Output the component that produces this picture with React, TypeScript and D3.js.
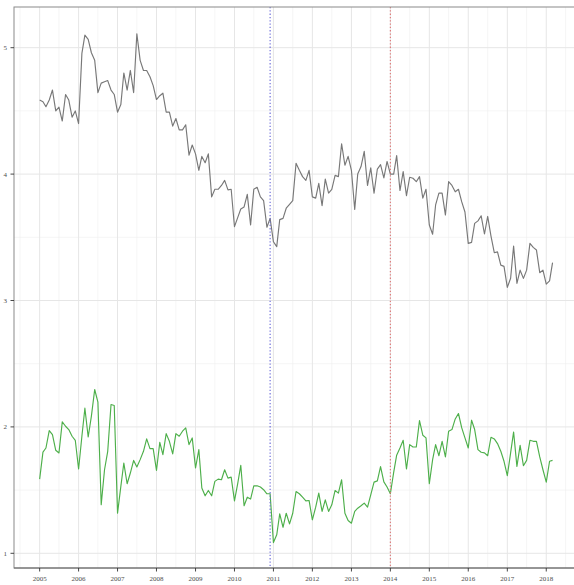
import React from "react";
import * as d3 from "d3";

const START_YEAR = 2005;
const START_MONTH = 0;

const seriesGray: number[] = [
  4.586, 4.573, 4.533, 4.586, 4.665, 4.5, 4.53, 4.42, 4.63, 4.586,
  4.45, 4.5, 4.4, 4.955, 5.1, 5.066, 4.96, 4.9, 4.645, 4.72,
  4.73, 4.74, 4.665, 4.63, 4.49, 4.55, 4.8, 4.665, 4.82, 4.645,
  5.11, 4.9, 4.82, 4.82, 4.77, 4.7, 4.59, 4.62, 4.64, 4.49,
  4.49, 4.38, 4.44, 4.35, 4.35, 4.39, 4.15, 4.23, 4.16, 4.03,
  4.14, 4.09, 4.16, 3.82, 3.88, 3.88, 3.91, 3.95, 3.875, 3.88,
  3.584, 3.658, 3.724, 3.74, 3.84, 3.597, 3.88, 3.896, 3.82, 3.79,
  3.58, 3.65, 3.465, 3.426, 3.64, 3.65, 3.73, 3.76, 3.79, 4.085,
  4.03, 3.98, 3.95, 4.03, 3.82, 3.81, 3.927, 3.75, 3.96, 3.85,
  3.88, 3.99, 3.98, 4.24, 4.07, 4.14, 4.03, 3.72, 4.0, 4.06,
  4.18, 3.91, 4.05, 3.85, 4.04, 4.075, 3.97, 4.1, 4.0, 4.0,
  4.146, 3.87, 4.02, 3.83, 3.975, 3.967, 3.94, 3.98, 3.81, 3.88,
  3.597, 3.524, 3.756, 3.85, 3.85, 3.676, 3.94, 3.91, 3.86, 3.88,
  3.78, 3.7, 3.452, 3.46, 3.61, 3.63, 3.67, 3.526, 3.665, 3.51,
  3.378, 3.385, 3.28, 3.27, 3.104, 3.176, 3.43, 3.136, 3.24, 3.175,
  3.24, 3.452, 3.42, 3.4, 3.22, 3.24, 3.13, 3.155, 3.3,
];

const seriesGreen: number[] = [
  1.587, 1.8, 1.833, 1.971, 1.939, 1.815, 1.794, 2.04, 2.005, 1.979,
  1.926, 1.894, 1.667, 1.926, 2.148, 1.92, 2.085, 2.296, 2.196, 1.384,
  1.661, 1.807, 2.177, 2.169, 1.317, 1.529, 1.714, 1.55, 1.635, 1.735,
  1.683, 1.741, 1.807, 1.905, 1.828, 1.828, 1.656, 1.878, 1.78, 1.947,
  1.886, 1.786, 1.947, 1.926, 1.966, 1.992, 1.86, 1.913, 1.675, 1.82,
  1.516, 1.455, 1.497, 1.455, 1.569, 1.587, 1.582, 1.661, 1.595, 1.603,
  1.415, 1.556, 1.696, 1.376, 1.444, 1.429, 1.534, 1.534, 1.524, 1.503,
  1.471, 1.471, 1.085, 1.146, 1.312, 1.206, 1.317, 1.233, 1.317, 1.489,
  1.471, 1.444, 1.415, 1.418, 1.265, 1.365, 1.476, 1.331, 1.423, 1.331,
  1.384, 1.497, 1.476, 1.582, 1.317, 1.259, 1.238, 1.331, 1.357, 1.376,
  1.397, 1.365, 1.463, 1.563, 1.573, 1.686, 1.565, 1.524, 1.471, 1.64,
  1.776, 1.833, 1.894, 1.667, 1.86, 1.841, 1.841, 2.05, 1.934, 1.913,
  1.55, 1.741, 1.86, 1.772, 1.886, 1.762, 1.966, 1.979, 2.063, 2.106,
  1.992, 1.913, 1.833, 2.053, 1.979, 1.82, 1.799, 1.794, 1.772, 1.918,
  1.905, 1.868, 1.807, 1.728, 1.614, 1.794, 1.96, 1.688, 1.854, 1.693,
  1.735, 1.894, 1.886, 1.886, 1.762, 1.661, 1.563, 1.728, 1.735,
];

const yTicks = [1, 2, 3, 4, 5];
const yMinor = [1.5, 2.5, 3.5, 4.5];
const xTickYears = [2005, 2006, 2007, 2008, 2009, 2010, 2011, 2012, 2013, 2014, 2015, 2016, 2017, 2018];
const vlineBlue = new Date(2010, 11, 1);
const vlineRed = new Date(2014, 0, 1);
const Y_LIMITS = [0.8837, 5.322];

const W = 574;
const H = 585;
const PL = 14;
const PT = 7;
const PB = 568;
const PR = 578.2;

export default function App() {
  const dates = seriesGray.map((_, i) => new Date(START_YEAR, START_MONTH + i, 1));
  const d0 = dates[0].getTime();
  const d1 = dates[dates.length - 1].getTime();
  const pad = (d1 - d0) * 0.05;
  const x = d3.scaleTime().domain([new Date(d0 - pad), new Date(d1 + pad)]).range([PL, PR]);
  const y = d3.scaleLinear().domain(Y_LIMITS).range([PB, PT]);

  const line = d3
    .line<number>()
    .x((_, i) => x(dates[i]))
    .y((v) => y(v));

  const minorX = xTickYears.map((yr) => new Date(yr, 6, 1)).concat([new Date(2004, 6, 1)]);

  return (
    <svg width={W} height={H} style={{ position: "absolute", left: 0, top: 0, background: "#fff" }}>
      <defs>
        <clipPath id="panel">
          <rect x={PL} y={PT} width={PR - PL} height={PB - PT} />
        </clipPath>
      </defs>
      <g clipPath="url(#panel)">
        {yMinor.map((v) => (
          <line key={"ym" + v} x1={PL} x2={PR} y1={y(v)} y2={y(v)} stroke="#efefef" strokeWidth={0.6} />
        ))}
        {minorX.map((d, i) => (
          <line key={"xm" + i} x1={x(d)} x2={x(d)} y1={PT} y2={PB} stroke="#efefef" strokeWidth={0.6} />
        ))}
        {yTicks.map((v) => (
          <line key={"yg" + v} x1={PL} x2={PR} y1={y(v)} y2={y(v)} stroke="#e6e6e6" strokeWidth={1} />
        ))}
        {xTickYears.map((yr) => (
          <line key={"xg" + yr} x1={x(new Date(yr, 0, 1))} x2={x(new Date(yr, 0, 1))} y1={PT} y2={PB} stroke="#e6e6e6" strokeWidth={1} />
        ))}
        <path d={line(seriesGray) || ""} fill="none" stroke="#787878" strokeWidth={1.15} strokeLinejoin="round" />
        <path d={line(seriesGreen) || ""} fill="none" stroke="#4daf4a" strokeWidth={1.15} strokeLinejoin="round" />
        <line x1={x(vlineBlue)} x2={x(vlineBlue)} y1={PT} y2={PB} stroke="#6565d8" strokeWidth={1.1} strokeDasharray="1.3 2" />
        <line x1={x(vlineRed)} x2={x(vlineRed)} y1={PT} y2={PB} stroke="#df7575" strokeWidth={1.1} strokeDasharray="1.3 2" />
      </g>
      <rect x={PL} y={PT} width={PR - PL} height={PB - PT} fill="none" stroke="#8a8a8a" strokeWidth={1} />
      <line x1={PL} x2={PR} y1={PB} y2={PB} stroke="#666" strokeWidth={1} />
      {yTicks.map((v) => (
        <g key={"yt" + v}>
          <line x1={PL - 3.5} x2={PL} y1={y(v)} y2={y(v)} stroke="#333" strokeWidth={0.9} />
          <text x={7} y={y(v)} dy="0.35em" textAnchor="end" fontFamily="Liberation Serif" fontSize={7} fill="#4d4d4d">
            {v}
          </text>
        </g>
      ))}
      {xTickYears.map((yr) => {
        const xx = x(new Date(yr, 0, 1));
        return (
          <g key={"xt" + yr}>
            <line x1={xx} x2={xx} y1={PB} y2={PB + 3.5} stroke="#333" strokeWidth={0.9} />
            <text x={xx} y={580.7} textAnchor="middle" fontFamily="Liberation Serif" fontSize={7} fill="#4d4d4d">
              {yr}
            </text>
          </g>
        );
      })}
    </svg>
  );
}
